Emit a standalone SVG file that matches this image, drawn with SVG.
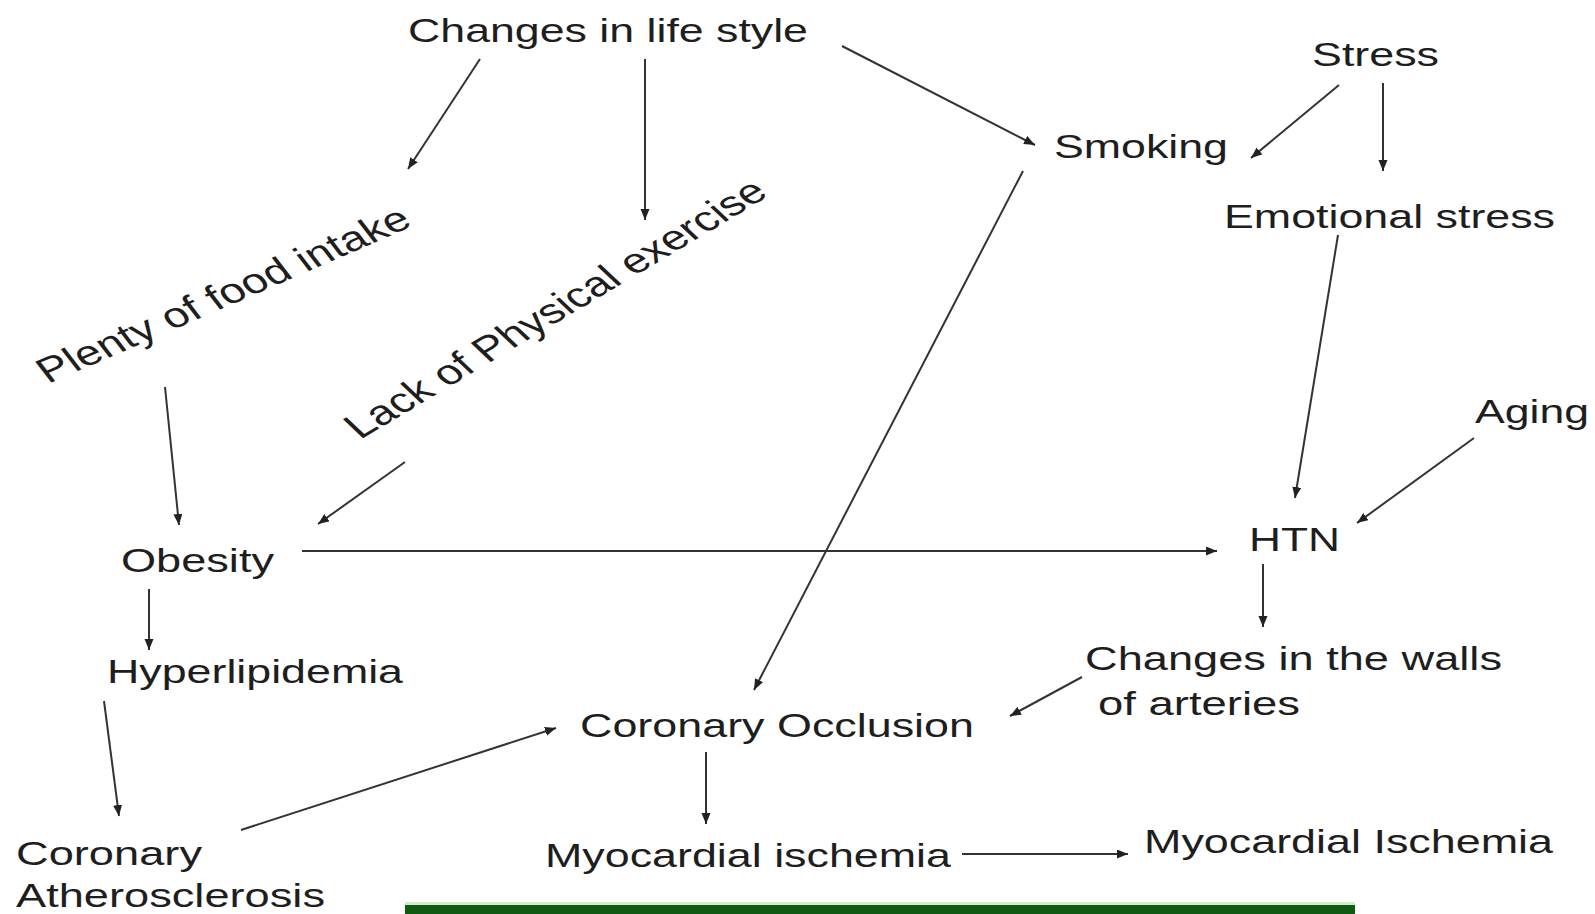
<svg xmlns="http://www.w3.org/2000/svg" width="1595" height="914" viewBox="0 0 1595 914">
<style>
text{font-family:"Liberation Sans",Arial,sans-serif;font-size:33.5px;fill:#1e1e1e}
.r{font-size:35px}
.c{stroke:#333;stroke-width:2;fill:none;marker-end:url(#ah)}
</style>
<defs>
<marker id="ah" markerUnits="userSpaceOnUse" markerWidth="12" markerHeight="10" refX="11" refY="4.5" orient="auto">
<path d="M0,0 L11,4.5 L0,9 z" fill="#222"/>
</marker>
</defs>
<rect width="1595" height="914" fill="#ffffff"/>
<g id="connectors">
<line class="c" x1="480" y1="59" x2="408" y2="169"/>
<line class="c" x1="645" y1="59" x2="645" y2="220"/>
<line class="c" x1="842" y1="46" x2="1035" y2="145"/>
<line class="c" x1="1339" y1="85" x2="1251" y2="158"/>
<line class="c" x1="1383" y1="83" x2="1383" y2="171"/>
<line class="c" x1="1023" y1="171" x2="754" y2="690"/>
<line class="c" x1="1338" y1="235" x2="1295" y2="498"/>
<line class="c" x1="1474" y1="438" x2="1357" y2="523"/>
<line class="c" x1="302" y1="551" x2="1217" y2="551"/>
<line class="c" x1="1263" y1="564" x2="1263" y2="627"/>
<line class="c" x1="1082" y1="677" x2="1010" y2="716"/>
<line class="c" x1="165" y1="387" x2="179" y2="525"/>
<line class="c" x1="405" y1="462" x2="318" y2="524"/>
<line class="c" x1="149" y1="589" x2="149" y2="650"/>
<line class="c" x1="104" y1="701" x2="119" y2="816"/>
<line class="c" x1="241" y1="830" x2="556" y2="728"/>
<line class="c" x1="706" y1="752" x2="706" y2="824"/>
<line class="c" x1="962" y1="854" x2="1128" y2="854"/>
</g>
<g id="n-changes"><text x="408" y="42" textLength="400" lengthAdjust="spacingAndGlyphs">Changes in life style</text></g>
<g id="n-stress"><text x="1312" y="66" textLength="127" lengthAdjust="spacingAndGlyphs">Stress</text></g>
<g id="n-smoking"><text x="1054" y="158" textLength="174" lengthAdjust="spacingAndGlyphs">Smoking</text></g>
<g id="n-emotional"><text x="1224" y="228" textLength="331" lengthAdjust="spacingAndGlyphs">Emotional stress</text></g>
<g id="n-food"><text class="r" transform="translate(48,384) scale(1.3333,1) rotate(-30)">Plenty of food intake</text></g>
<g id="n-exercise"><text class="r" transform="translate(360,440) scale(1.3333,1) rotate(-38.5)">Lack of Physical exercise</text></g>
<g id="n-aging"><text x="1475" y="423" textLength="114" lengthAdjust="spacingAndGlyphs">Aging</text></g>
<g id="n-obesity"><text x="121" y="572" textLength="153" lengthAdjust="spacingAndGlyphs">Obesity</text></g>
<g id="n-htn"><text x="1249" y="551" textLength="91" lengthAdjust="spacingAndGlyphs">HTN</text></g>
<g id="n-hyper"><text x="107" y="683" textLength="296" lengthAdjust="spacingAndGlyphs">Hyperlipidemia</text></g>
<g id="n-walls"><text x="1085" y="670" textLength="417" lengthAdjust="spacingAndGlyphs">Changes in the walls</text><text x="1098" y="715" textLength="202" lengthAdjust="spacingAndGlyphs">of arteries</text></g>
<g id="n-occlusion"><text x="580" y="737" textLength="394" lengthAdjust="spacingAndGlyphs">Coronary Occlusion</text></g>
<g id="n-athero"><text x="16" y="865" textLength="186" lengthAdjust="spacingAndGlyphs">Coronary</text><text x="16" y="907" textLength="309" lengthAdjust="spacingAndGlyphs">Atherosclerosis</text></g>
<g id="n-mi1"><text x="545" y="867" textLength="406" lengthAdjust="spacingAndGlyphs">Myocardial ischemia</text></g>
<g id="n-mi2"><text x="1144" y="853" textLength="409" lengthAdjust="spacingAndGlyphs">Myocardial Ischemia</text></g>
<rect x="405" y="902" width="950" height="3" fill="#d4ecc9"/>
<rect x="405" y="905" width="950" height="9" fill="#0f5a12"/>
</svg>
